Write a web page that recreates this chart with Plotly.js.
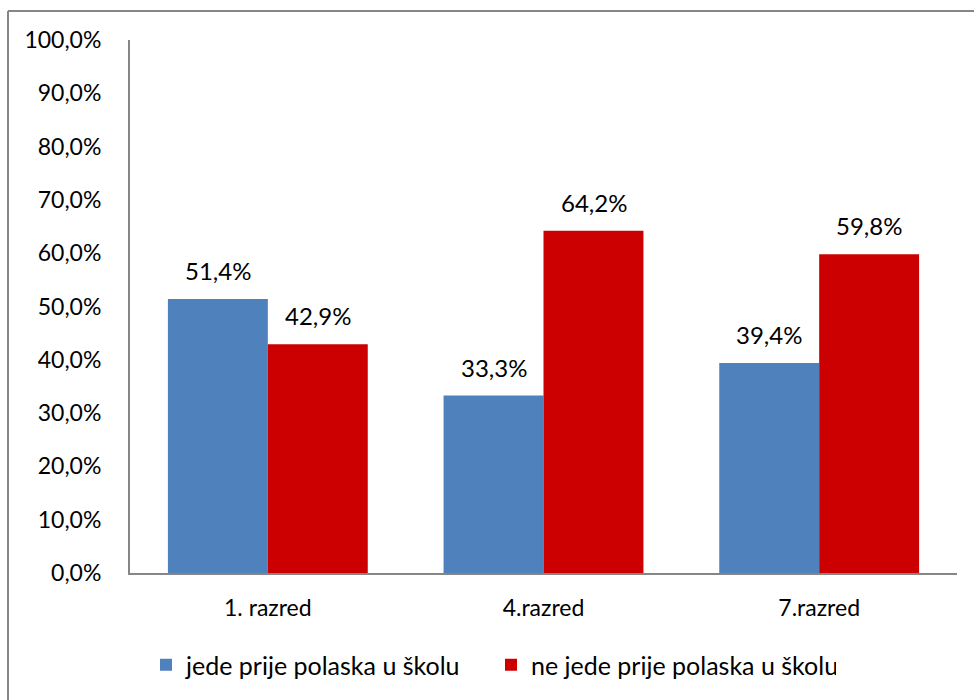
<!DOCTYPE html>
<html>
<head>
<meta charset="utf-8">
<script src="https://cdn.plot.ly/plotly-3.0.1.min.js"></script>
<style>
html,body{margin:0;padding:0;background:#fff;}
#chart{width:974px;height:700px;}
</style>
</head>
<body>
<div id="chart"></div>
<script>
const categories = ["1. razred", "4.razred", "7.razred"];
const seriesNames = ["jede prije polaska u školu", "ne jede prije polaska u školu"];
const eatsBefore = [0.514, 0.333, 0.394];
const notEatsBefore = [0.429, 0.642, 0.598];
const yTickVals = [0, 0.1, 0.2, 0.3, 0.4, 0.5, 0.6, 0.7, 0.8, 0.9, 1.0];
const yTickText = ["0,0%", "10,0%", "20,0%", "30,0%", "40,0%", "50,0%", "60,0%", "70,0%", "80,0%", "90,0%", "100,0%"];

const FONT = "Lato, 'Liberation Sans', sans-serif";
const colors = ["#4F81BD", "#CC0000"];
const W = 974, H = 700;
const M = {l: 130, r: 17, t: 40, b: 127};
const pw = W - M.l - M.r, ph = H - M.t - M.b;

function fmt(v) { return (v * 100).toFixed(1).replace(".", ",") + "%"; }

const traces = [eatsBefore, notEatsBefore].map((vals, i) => ({
  type: "bar",
  name: seriesNames[i],
  x: categories,
  y: vals,
  marker: {color: colors[i]},
  hoverinfo: "skip"
}));

const annotations = [];
[eatsBefore, notEatsBefore].forEach((vals, i) => {
  vals.forEach((v, j) => {
    annotations.push({
      x: categories[j], y: v, xref: "x", yref: "y",
      text: fmt(v), showarrow: false,
      xanchor: "center", yanchor: "bottom",
      xshift: i === 0 ? -50 : 50, yshift: 12,
      font: {family: FONT, size: 24, color: "#000"}
    });
  });
});

const layout = {
  width: W, height: H,
  margin: M,
  paper_bgcolor: "#fff", plot_bgcolor: "#fff",
  font: {family: FONT, size: 23, color: "#000"},
  barmode: "group",
  bargap: 0.275,
  bargroupgap: 0,
  showlegend: true,
  legend: {
    orientation: "h", x: 16 / pw, xanchor: "left", y: -(665 - 573) / ph, yanchor: "middle",
    font: {family: FONT, size: 25, color: "#000"},
    itemwidth: 30, entrywidth: 300, traceorder: "normal", bgcolor: "rgba(0,0,0,0)"
  },
  xaxis: {
    type: "category",
    showline: true, linecolor: "#868686", linewidth: 2,
    ticks: "", showgrid: false, zeroline: false,
    tickfont: {family: FONT, size: 23, color: "#000"},
    ticklabelstandoff: 13
  },
  yaxis: {
    range: [0, 1.0],
    tickvals: yTickVals, ticktext: yTickText,
    showline: true, linecolor: "#868686", linewidth: 2,
    ticks: "", showgrid: false, zeroline: false,
    tickfont: {family: FONT, size: 23, color: "#000"},
    ticklabelstandoff: 22
  },
  annotations: annotations,
  shapes: [{
    type: "line", xref: "paper", yref: "paper",
    x0: (8 - M.l) / pw, x1: (8 - M.l) / pw, y0: -(H - M.t) / ph, y1: (M.t - 11) / ph + 1,
    line: {color: "#868686", width: 2}
  }, {
    type: "line", xref: "paper", yref: "paper",
    x0: (8 - M.l) / pw, x1: (W - M.l) / pw + 0.01, y0: 1 + (M.t - 11) / ph, y1: 1 + (M.t - 11) / ph,
    line: {color: "#868686", width: 2}
  }]
};

Plotly.newPlot("chart", traces, layout, {displayModeBar: false, staticPlot: true});
</script>
</body>
</html>
